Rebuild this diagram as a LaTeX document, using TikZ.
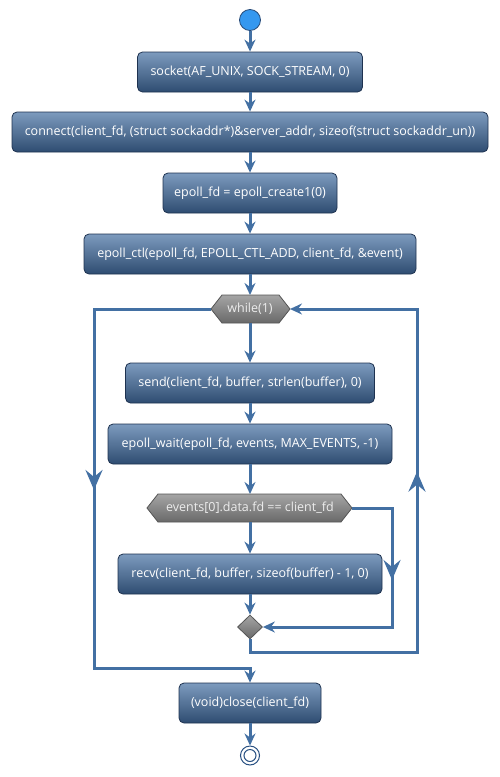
\documentclass[tikz,border=0pt]{standalone}
\usepackage{fontspec}
\setmainfont{Open Sans}
\usetikzlibrary{arrows.meta,shapes.geometric,decorations.markings}
\definecolor{lineblue}{RGB}{67,112,163}
\definecolor{boxtop}{RGB}{125,155,190}
\definecolor{boxbot}{RGB}{46,76,113}
\definecolor{boxborder}{RGB}{30,50,80}
\definecolor{hextop}{RGB}{165,165,165}
\definecolor{hexbot}{RGB}{105,105,105}
\definecolor{hexborder}{RGB}{85,85,85}
\definecolor{startblue}{RGB}{52,152,240}
\definecolor{startborder}{RGB}{40,75,120}
\definecolor{endblue}{RGB}{40,80,130}
\begin{document}
\begin{tikzpicture}[x=1pt,y=-1pt,
  txt/.style={font=\fontsize{12.5}{15}\selectfont},
  act/.style={txt, draw=boxborder, line width=0.8pt, rounded corners=5pt,
    top color=boxtop, bottom color=boxbot, text=white,
    minimum height=40pt, inner sep=0pt},
  hexshape/.style={draw=hexborder, line width=0.8pt, top color=hextop, bottom color=hexbot},
  hextext/.style={txt, text=white!93!black, inner sep=0pt},
  flow/.style={draw=lineblue, line width=3pt, line join=miter,
    -{Stealth[length=12pt,width=11pt,inset=4pt]}},
  bigtip/.tip={Stealth[length=20pt,width=17pt,inset=7pt]},
  midarrow/.style={postaction={decorate},
    decoration={markings, mark=at position #1 with {\arrow{bigtip}}}}
]
\useasboundingbox (0,0) rectangle (499,777);

% start
\node[circle, draw=startborder, fill=startblue, line width=0.8pt,
  minimum size=21pt, inner sep=0pt] (start) at (250,20) {};

% actions
\node[act, minimum width=225pt] (socket) at (250,72) {socket(AF\_UNIX, SOCK\_STREAM, 0)};
\node[act, minimum width=476pt] (connect) at (250,132) {connect(client\_fd, (struct sockaddr*)\&server\_addr, sizeof(struct sockaddr\_un))};
\node[act, minimum width=174pt] (create) at (250,193) {epoll\_fd = epoll\_create1(0)};
\node[act, minimum width=332pt] (ctl) at (250,254) {epoll\_ctl(epoll\_fd, EPOLL\_CTL\_ADD, client\_fd, \&event)};

% while hexagon
\shade[hexshape] (211,309) -- (222,295) -- (279,295) -- (290,309) -- (279,323) -- (222,323) -- cycle;
\node[hextext] (while) at (250,309) {while(1)};
\coordinate (whileT) at (250,295);
\coordinate (whileB) at (250,323);
\coordinate (whileL) at (211,309);
\coordinate (whileR) at (290,309);

\node[act, minimum width=249pt] (send) at (250,383) {send(client\_fd, buffer, strlen(buffer), 0)};
\node[act, minimum width=284pt] (wait) at (250,444) {epoll\_wait(epoll\_fd, events, MAX\_EVENTS, -1)};

% events hexagon
\shade[hexshape] (147,508) -- (158,494) -- (341,494) -- (352,508) -- (341,522) -- (158,522) -- cycle;
\node[hextext] (events) at (250,508) {events[0].data.fd == client\_fd};
\coordinate (eventsT) at (250,494);
\coordinate (eventsB) at (250,522);
\coordinate (eventsR) at (352,508);

\node[act, minimum width=264pt] (recv) at (250,574) {recv(client\_fd, buffer, sizeof(buffer) - 1, 0)};

% merge diamond
\node[diamond, draw=hexborder, line width=0.8pt, top color=hextop, bottom color=hexbot,
  minimum width=25pt, minimum height=24pt, inner sep=0pt] (merge) at (250,627) {};

\node[act, minimum width=142pt] (close) at (250,703) {(void)close(client\_fd)};

% end
\node[circle, draw=endblue, fill=white, line width=1pt, minimum size=19pt, inner sep=0pt] (stop) at (250,755.5) {};
\node[circle, draw=endblue, line width=1pt, minimum size=12pt, inner sep=0pt] (stopin) at (250,755.5) {};

% helper coordinates
\coordinate (brk) at (392,627);
\coordinate (lb1) at (250,652);
\coordinate (lb2) at (417,652);
\coordinate (exA) at (94,668);

% connectors
\draw[flow] (start) -- (socket);
\draw[flow] (socket) -- (connect);
\draw[flow] (connect) -- (create);
\draw[flow] (create) -- (ctl);
\draw[flow] (ctl) -- (whileT);
\draw[flow] (whileB) -- (send);
\draw[flow] (send) -- (wait);
\draw[flow] (wait) -- (eventsT);
\draw[flow] (eventsB) -- (recv);
\draw[flow] (recv) -- (merge);
\draw[flow, midarrow=112pt] (eventsR) -| (brk) -- (merge.east);
\draw[flow, midarrow=360pt] (merge.south) -- (lb1) -- (lb2) |- (whileR);
\draw[flow, midarrow=298pt] (whileL) -| (exA) -| (close.north);
\draw[flow] (close) -- (stop);
\end{tikzpicture}
\end{document}
